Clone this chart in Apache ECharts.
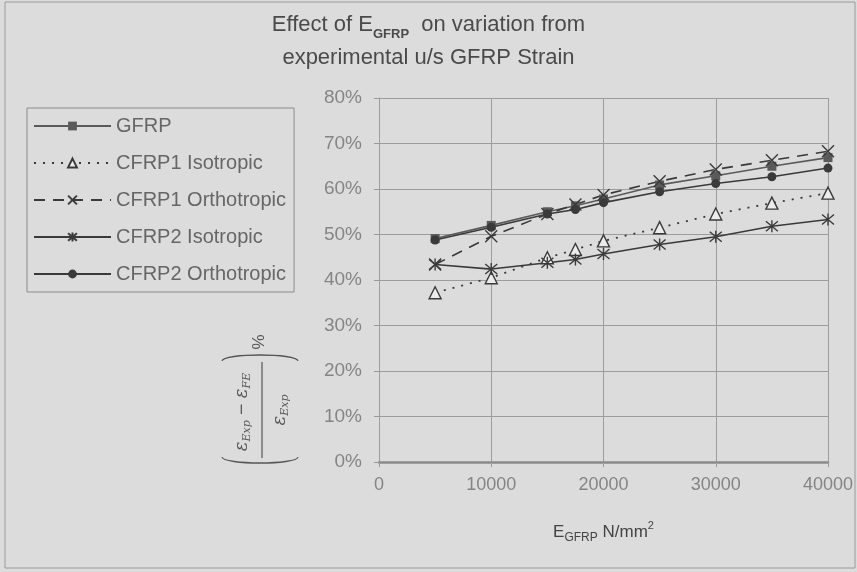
<!DOCTYPE html>
<html>
<head>
<meta charset="utf-8">
<script src="https://cdn.jsdelivr.net/npm/echarts@6/dist/echarts.min.js"></script>
<style>
  html, body { margin: 0; padding: 0; background: #dcdcdc; }
  #chart { width: 857px; height: 572px; }
</style>
</head>
<body>
<div id="chart"></div>
<script>
// E of the GFRP sheet (N/mm²)
const eGfrp = [5000, 10000, 15000, 17500, 20000, 25000, 30000, 35000, 40000];

// Variation from experimental ultimate GFRP strain (%)
const gfrp        = [49.1, 52.0, 55.0, 56.3, 57.8, 60.9, 62.9, 65.0, 66.9];
const cfrp1Iso    = [37.2, 40.5, 44.9, 46.7, 48.6, 51.5, 54.5, 56.9, 59.1];
const cfrp1Ortho  = [43.4, 49.6, 54.5, 56.6, 58.7, 61.7, 64.3, 66.3, 68.3];
const cfrp2Iso    = [43.4, 42.4, 43.8, 44.5, 45.7, 47.8, 49.5, 51.8, 53.3];
const cfrp2Ortho  = [48.8, 51.6, 54.5, 55.5, 57.0, 59.4, 61.2, 62.7, 64.6];

const seriesNames = ['GFRP', 'CFRP1 Isotropic', 'CFRP1 Orthotropic', 'CFRP2 Isotropic', 'CFRP2 Orthotropic'];

const FONT = 'Liberation Sans';
const BG = '#dcdcdc';
const INK = '#3a3a3a';

const pairs = vals => eGfrp.map((x, i) => [x, vals[i]]);

const crossPath = 'path://M0,0L10,10M10,0L0,10';
const starPath = 'path://M0,0L10,10M10,0L0,10M5,-1L5,11';

const chart = echarts.init(document.getElementById('chart'), null, { renderer: 'canvas' });

chart.setOption({
  backgroundColor: BG,
  animation: false,
  title: {
    left: 'center',
    top: 3,
    text: '{t|Effect of E}{s|GFRP}{t|  on variation from}\n{t|experimental u/s GFRP Strain}',
    textStyle: {
      fontWeight: 'normal',
      rich: {
        t: { fontFamily: FONT, fontSize: 22, fontWeight: 'normal', color: '#4a4a4a', lineHeight: 33 },
        s: { fontFamily: FONT, fontSize: 13, fontWeight: 'bold', color: '#4a4a4a', lineHeight: 17, verticalAlign: 'bottom' }
      }
    }
  },
  legend: {
    orient: 'vertical',
    left: 27,
    top: 108,
    padding: [7, 8, 7, 6],
    itemWidth: 77,
    itemHeight: 11,
    itemGap: 15,
    backgroundColor: BG,
    borderColor: '#8c8c8c',
    borderWidth: 1,
    data: seriesNames,
    textStyle: { fontFamily: FONT, fontSize: 20, color: '#666', lineHeight: 22 }
  },
  grid: { left: 379, right: 29, top: 98, bottom: 110 },
  xAxis: {
    type: 'value',
    min: 0,
    max: 40000,
    interval: 10000,
    name: '{b|E}{s|GFRP}{b| N/mm}{p|2}',
    nameLocation: 'middle',
    nameGap: 58,
    nameTextStyle: {
      rich: {
        b: { fontFamily: FONT, fontSize: 17, color: '#444', lineHeight: 24 },
        s: { fontFamily: FONT, fontSize: 12, color: '#444', lineHeight: 16, verticalAlign: 'bottom' },
        p: { fontFamily: FONT, fontSize: 11, color: '#444', lineHeight: 12, verticalAlign: 'top' }
      }
    },
    axisLine: { show: true, lineStyle: { color: '#8a8a8a', width: 2.5 } },
    axisTick: { show: true, length: 5, lineStyle: { color: '#999' } },
    axisLabel: { fontFamily: FONT, fontSize: 18, color: '#858585', margin: 14, formatter: v => String(v) },
    splitLine: { show: true, lineStyle: { color: '#9c9c9c', width: 1 } }
  },
  yAxis: {
    type: 'value',
    min: 0,
    max: 80,
    interval: 10,
    axisLine: { show: true, lineStyle: { color: '#9c9c9c', width: 1 } },
    axisTick: { show: true, length: 5, lineStyle: { color: '#999' } },
    axisLabel: { fontFamily: FONT, fontSize: 19, color: '#858585', margin: 17, formatter: '{value}%' },
    splitLine: { show: true, lineStyle: { color: '#9c9c9c', width: 1 } }
  },
  series: [
    {
      name: 'GFRP', type: 'line', data: pairs(gfrp),
      symbol: 'rect', symbolSize: 9,
      color: '#5a5a5a',
      lineStyle: { color: '#5a5a5a', width: 1.6 },
      itemStyle: { color: '#5a5a5a' }
    },
    {
      name: 'CFRP1 Isotropic', type: 'line', data: pairs(cfrp1Iso),
      symbol: 'triangle', symbolSize: 12,
      color: INK,
      lineStyle: { color: INK, width: 1.8, type: [2, 7] },
      itemStyle: { color: '#ececec', borderColor: INK, borderWidth: 1.4 }
    },
    {
      name: 'CFRP1 Orthotropic', type: 'line', data: pairs(cfrp1Ortho),
      symbol: crossPath, symbolSize: 12,
      color: INK,
      lineStyle: { color: INK, width: 1.6, type: [11, 8] },
      itemStyle: { color: 'rgba(0,0,0,0)', borderColor: INK, borderWidth: 1.4 }
    },
    {
      name: 'CFRP2 Isotropic', type: 'line', data: pairs(cfrp2Iso),
      symbol: starPath, symbolSize: 12,
      color: INK,
      lineStyle: { color: INK, width: 1.6 },
      itemStyle: { color: 'rgba(0,0,0,0)', borderColor: INK, borderWidth: 1.4 }
    },
    {
      name: 'CFRP2 Orthotropic', type: 'line', data: pairs(cfrp2Ortho),
      symbol: 'circle', symbolSize: 9,
      color: INK,
      lineStyle: { color: INK, width: 1.6 },
      itemStyle: { color: INK }
    }
  ],
  graphic: [
    {
      type: 'rect',
      shape: { x: 5, y: 2, width: 850, height: 566 },
      style: { fill: 'none', stroke: '#9a9a9a', lineWidth: 1 },
      silent: true
    },
    {
      // rotated y-axis quantity: ((εExp − εFE) / εExp) %
      type: 'group',
      x: 260,
      y: 410,
      rotation: Math.PI / 2,
      children: [
        {
          type: 'text', x: -2, y: -18,
          style: {
            text: '{e|ε}{s|Exp}{m| − }{e|ε}{s|FE}',
            align: 'center', verticalAlign: 'middle',
            rich: {
              e: { fontFamily: 'DejaVu Serif', fontStyle: 'italic', fontSize: 18, fill: '#555', lineHeight: 22 },
              s: { fontFamily: 'DejaVu Serif', fontStyle: 'italic', fontSize: 11, fill: '#555', lineHeight: 14, verticalAlign: 'bottom' },
              m: { fontFamily: 'DejaVu Sans', fontSize: 15, fill: '#555', lineHeight: 22 }
            }
          }
        },
        {
          type: 'line',
          shape: { x1: -48, y1: 2, x2: 48, y2: 2 },
          style: { stroke: '#555', lineWidth: 1.2 }
        },
        {
          type: 'text', x: 0, y: 20,
          style: {
            text: '{e|ε}{s|Exp}',
            align: 'center', verticalAlign: 'middle',
            rich: {
              e: { fontFamily: 'DejaVu Serif', fontStyle: 'italic', fontSize: 18, fill: '#555', lineHeight: 22 },
              s: { fontFamily: 'DejaVu Serif', fontStyle: 'italic', fontSize: 11, fill: '#555', lineHeight: 14, verticalAlign: 'bottom' }
            }
          }
        },
        {
          type: 'text', x: 68, y: -1,
          style: { text: '%', fontFamily: FONT, fontSize: 17, fill: '#555', align: 'center', verticalAlign: 'middle' }
        },
        {
          type: 'bezierCurve',
          shape: { x1: 49, y1: -38, cpx1: 57, cpy1: -37, cpx2: 57, cpy2: 37, x2: 49, y2: 38 },
          style: { stroke: '#555', lineWidth: 1.3, fill: 'none' }
        },
        {
          type: 'bezierCurve',
          shape: { x1: -47, y1: -38, cpx1: -55, cpy1: -37, cpx2: -55, cpy2: 37, x2: -47, y2: 38 },
          style: { stroke: '#555', lineWidth: 1.3, fill: 'none' }
        }
      ]
    }
  ]
});
</script>
</body>
</html>
